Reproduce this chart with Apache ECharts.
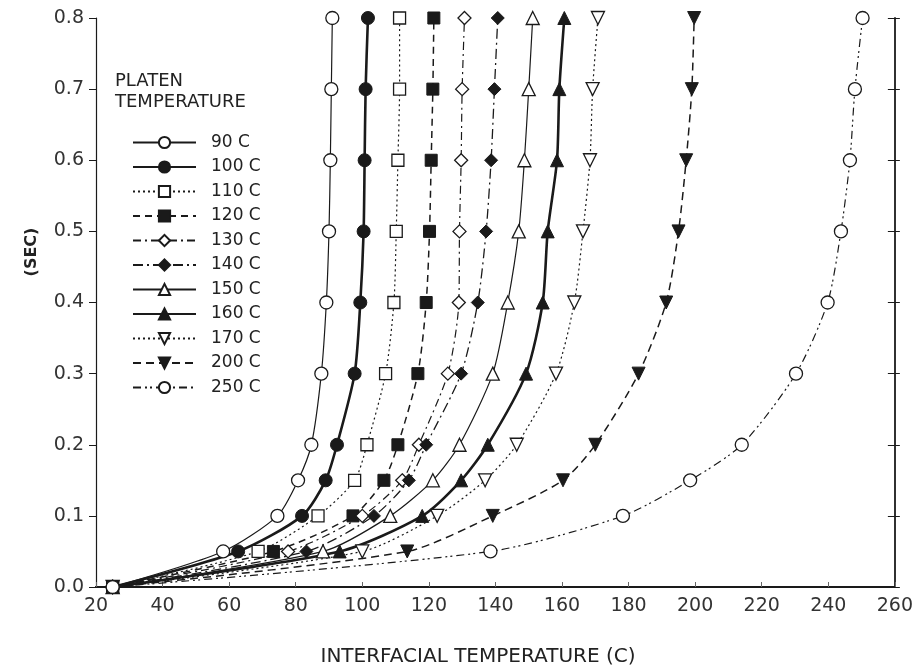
<!DOCTYPE html>
<html>
<head>
<meta charset="utf-8">
<script src="https://cdn.jsdelivr.net/npm/echarts@6/dist/echarts.min.js"></script>
<style>
  html, body { margin: 0; padding: 0; background: #fff; }
  #chart { width: 916px; height: 667px; }
</style>
</head>
<body>
<div id="chart"></div>
<script>
// contact time levels (sec), shared by every platen temperature
const timeLevels = [0, 0.05, 0.1, 0.15, 0.2, 0.3, 0.4, 0.5, 0.6, 0.7, 0.8]
const xTicks = [20, 40, 60, 80, 100, 120, 140, 160, 180, 200, 220, 240, 260]
const yTicks = [0, 0.1, 0.2, 0.3, 0.4, 0.5, 0.6, 0.7, 0.8]
const seriesNames = ["90 C", "100 C", "110 C", "120 C", "130 C", "140 C", "150 C", "160 C", "170 C", "200 C", "250 C"]
// interfacial temperature at each time level
const t90 = [25, 58.2, 74.5, 80.7, 84.7, 87.7, 89.2, 90, 90.4, 90.7, 91]
const t100 = [25, 62.7, 81.9, 89, 92.4, 97.7, 99.4, 100.4, 100.7, 101, 101.7]
const t110 = [25, 68.7, 86.7, 97.7, 101.4, 107, 109.5, 110.2, 110.7, 111.2, 111.2]
const t120 = [25, 73.3, 97.2, 106.5, 110.7, 116.7, 119.2, 120.2, 120.7, 121.2, 121.5]
const t130 = [25, 77.7, 100, 112, 117, 125.7, 129, 129.2, 129.7, 130, 130.7]
const t140 = [25, 83.2, 103.5, 114, 119.2, 129.7, 134.7, 137.2, 138.7, 139.7, 140.7]
const t150 = [25, 88.2, 108.4, 121.2, 129.2, 139.2, 143.7, 147, 148.7, 150, 151.2]
const t160 = [25, 93.2, 118, 129.7, 137.7, 149.2, 154.2, 155.7, 158.5, 159.2, 160.7]
const t170 = [25, 100, 122.5, 136.9, 146.4, 158.2, 163.7, 166.3, 168.4, 169.2, 170.8]
const t200 = [25, 113.5, 139.2, 160.3, 170, 183, 191.3, 195, 197.3, 199, 199.7]
const t250 = [25, 138.5, 178.3, 198.5, 214, 230.3, 239.8, 243.8, 246.5, 248, 250.3]
const seriesValues = [t90, t100, t110, t120, t130, t140, t150, t160, t170, t200, t250]

const ink = "#1a1a1a"
const font = "DejaVu Sans"
// marker / line look per series
const looks = [
  { symbol: "circle", open: true, size: 13, line: "solid", width: 1.2 },
  { symbol: "circle", open: false, size: 13, line: "solid", width: 2.6 },
  { symbol: "rect", open: true, size: 12, line: [2, 3], width: 1.2 },
  { symbol: "rect", open: false, size: 12, line: [7, 5], width: 1.5 },
  { symbol: "diamond", open: true, size: 13, line: [8, 4, 2, 4], width: 1.2 },
  { symbol: "diamond", open: false, size: 13, line: [10, 4, 2, 4], width: 1.3 },
  { symbol: "triangle", open: true, size: 13, line: "solid", width: 1.2 },
  { symbol: "triangle", open: false, size: 13, line: "solid", width: 2.6 },
  { symbol: "triangle", open: true, size: 13, line: [2, 3], width: 1.2, down: true },
  { symbol: "triangle", open: false, size: 13, line: [8, 5], width: 1.5, down: true },
  { symbol: "circle", open: true, size: 13, line: [8, 4, 2, 3, 2, 4], width: 1.2 }
]

const chart = echarts.init(document.getElementById("chart"), null, { renderer: "canvas" })

const series = seriesNames.map((name, i) => {
  const lk = looks[i]
  return {
    name: name,
    type: "line",
    smooth: 0.25,
    symbol: lk.symbol,
    symbolSize: lk.size,
    symbolRotate: lk.down ? 180 : 0,
    showAllSymbol: true,
    lineStyle: { color: ink, width: lk.width, type: lk.line },
    itemStyle: {
      color: lk.open ? "#fff" : ink,
      borderColor: ink,
      borderWidth: lk.open ? 1.3 : 1
    },
    emphasis: { disabled: true },
    data: seriesValues[i].map((x, k) => [x, timeLevels[k]]),
    z: 3
  }
})

const axisText = { color: "#333", fontSize: 19, fontFamily: font }

const option = {
  backgroundColor: "#fff",
  animation: false,
  grid: { left: 96, right: 19, top: 18, bottom: 80 },
  xAxis: [
    {
      type: "value",
      min: xTicks[0],
      max: xTicks[xTicks.length - 1],
      interval: 20,
      axisLine: { lineStyle: { color: ink, width: 1.8 } },
      axisTick: { inside: true, length: 5, lineStyle: { color: "#666" } },
      axisLabel: { ...axisText, margin: 10 },
      splitLine: { show: false }
    },
    {
      type: "value",
      position: "top",
      min: xTicks[0],
      max: xTicks[xTicks.length - 1],
      interval: 20,
      axisLine: { lineStyle: { color: ink, width: 2.2 } },
      axisTick: { show: false },
      axisLabel: { show: false },
      splitLine: { show: false }
    }
  ],
  yAxis: [
    {
      type: "value",
      min: yTicks[0],
      max: yTicks[yTicks.length - 1],
      interval: 0.1,
      axisLine: { show: true, lineStyle: { color: ink, width: 1.2 } },
      axisTick: { show: true, length: 7, lineStyle: { color: ink } },
      axisLabel: { ...axisText, margin: 12, formatter: (v) => v.toFixed(1) },
      splitLine: { show: false }
    },
    {
      type: "value",
      position: "right",
      min: yTicks[0],
      max: yTicks[yTicks.length - 1],
      interval: 0.1,
      axisLine: { show: true, lineStyle: { color: ink, width: 1.8 } },
      axisTick: { show: true, inside: true, length: 7, lineStyle: { color: ink } },
      axisLabel: { show: false },
      splitLine: { show: false }
    },
    {
      type: "value",
      position: "right",
      min: yTicks[0],
      max: yTicks[yTicks.length - 1],
      interval: 0.1,
      axisLine: { show: false },
      axisTick: { show: true, length: 5, lineStyle: { color: ink } },
      axisLabel: { show: false },
      splitLine: { show: false }
    }
  ],
  legend: {
    orient: "vertical",
    left: 127,
    top: 129,
    itemWidth: 63,
    itemHeight: 14,
    itemGap: 7.5,
    selectedMode: false,
    data: seriesNames,
    textStyle: { color: "#222", fontSize: 17, fontFamily: font, padding: [0, 0, 0, 10] }
  },
  graphic: [
    {
      type: "text",
      left: 115,
      top: 71,
      style: {
        text: "PLATEN\nTEMPERATURE",
        fill: "#222",
        font: "18px 'DejaVu Sans'",
        lineHeight: 21
      }
    },
    {
      type: "text",
      x: 478,
      y: 657,
      style: {
        text: "INTERFACIAL TEMPERATURE (C)",
        fill: "#222",
        font: "20px 'DejaVu Sans'",
        align: "center",
        verticalAlign: "middle"
      }
    },
    {
      type: "text",
      x: 32,
      y: 252,
      rotation: Math.PI / 2,
      style: {
        text: "(SEC)",
        fill: "#222",
        font: "bold 16px 'DejaVu Sans'",
        align: "center",
        verticalAlign: "middle"
      }
    }
  ],
  series: series
}

chart.setOption(option)
</script>
</body>
</html>
